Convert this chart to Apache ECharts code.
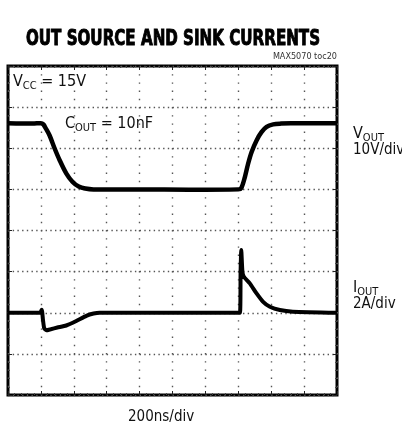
<!DOCTYPE html>
<html>
<head>
<meta charset="utf-8">
<script src="https://cdn.jsdelivr.net/npm/echarts@6/dist/echarts.min.js"></script>
<style>html,body{margin:0;padding:0;background:#fff;}#c{width:402px;height:430px;}</style>
</head>
<body>
<div id="c"></div>
<script>
// time axis (ns), 200 ns/div, 10 divisions
const timeTicks = [0, 200, 400, 600, 800, 1000, 1200, 1400, 1600, 1800, 2000];
// VOUT trace (ns, V) — 10 V/div
const voutTime = [0, 150, 200, 215, 230, 253, 283, 314, 354, 393, 430, 470, 520, 800, 1100, 1400, 1418, 1440, 1460, 1481, 1511, 1541, 1572, 1612, 1660, 1720, 2000];
const voutVolts = [16.1, 16.0, 16.1, 15.8, 14.8, 13.1, 10.0, 7.1, 3.9, 1.8, 0.7, 0.2, 0, 0, -0.1, 0, 0.3, 3.0, 6.3, 9.1, 11.9, 13.9, 15.2, 15.8, 16.0, 16.1, 16.1];
// IOUT trace (ns, A) — 2 A/div
const ioutTime = [0, 195, 205, 212, 220, 233, 260, 300, 354, 415, 476, 520, 557, 800, 1100, 1410, 1414, 1418, 1425, 1434, 1470, 1511, 1551, 1592, 1653, 1732, 2000];
const ioutAmps = [0, 0, 0.15, -0.3, -0.75, -0.85, -0.8, -0.72, -0.62, -0.4, -0.15, -0.04, 0, 0, 0, 0, 2.0, 3.05, 2.0, 1.75, 1.43, 0.94, 0.53, 0.29, 0.13, 0.05, 0];
// vertical scales: 8 divisions each
const voutRange = [-50, 30, 10];
const ioutRange = [-4, 12, 2];

const chart = echarts.init(document.getElementById('c'), null, {renderer: 'canvas'});
const FONT = '"Liberation Sans Narrow", "DejaVu Sans Condensed", sans-serif';
const dotV = {color: '#555', width: 1.4, type: [1.4, 6.8]};
const dotH = {color: '#555', width: 1.4, type: [1.4, 3.3]};

function xAx(pos, split) {
  return {
    type: 'value', min: timeTicks[0], max: timeTicks[timeTicks.length - 1],
    interval: timeTicks[1] - timeTicks[0], position: pos,
    axisLine: {show: false, onZero: false}, axisLabel: {show: false},
    axisTick: {show: true, inside: true, length: 4, lineStyle: {color: '#222', width: 1}},
    minorTick: {show: true, splitNumber: 5, length: 2, lineStyle: {color: '#444', width: 1}},
    splitLine: {show: split, lineStyle: dotV}
  };
}
function yAx(r, pos, split) {
  return {
    type: 'value', min: r[0], max: r[1], interval: r[2], position: pos,
    axisLine: {show: false, onZero: false}, axisLabel: {show: false},
    axisTick: {show: true, inside: true, length: 4, lineStyle: {color: '#222', width: 1}},
    minorTick: {show: true, splitNumber: 5, length: 2, lineStyle: {color: '#444', width: 1}},
    splitLine: {show: split, lineStyle: dotH}
  };
}

const rich = {
  a: {fontFamily: FONT, fontSize: 16, color: '#111', lineHeight: 20, verticalAlign: 'middle'},
  b: {fontFamily: FONT, fontSize: 11, color: '#111', lineHeight: 14, verticalAlign: 'bottom'}
};
function label(x, y, str) {
  return {type: 'text', left: x, top: y, z: 100, style: {text: str, rich: rich, fill: '#111'}};
}
function plain(x, y, str) {
  return {type: 'text', left: x, top: y, z: 100, style: {text: str, fontFamily: FONT, fontSize: 15, fill: '#111'}};
}

chart.setOption({
  animation: false,
  backgroundColor: '#fff',
  grid: {left: 8, top: 66, width: 329, height: 329, show: true, borderColor: '#000', borderWidth: 3, backgroundColor: 'transparent'},
  xAxis: [xAx('bottom', true), xAx('top', false)],
  yAxis: [yAx(voutRange, 'left', true), yAx(ioutRange, 'right', false)],
  series: [
    {type: 'line', name: 'VOUT', xAxisIndex: 0, yAxisIndex: 0, showSymbol: false, smooth: 0.3,
      lineStyle: {color: '#000', width: 4.5}, data: voutTime.map((t, i) => [t, voutVolts[i]])},
    {type: 'line', name: 'IOUT', xAxisIndex: 0, yAxisIndex: 1, showSymbol: false, smooth: 0.2,
      lineStyle: {color: '#000', width: 4}, data: ioutTime.map((t, i) => [t, ioutAmps[i]])}
  ],
  graphic: [
    {type: 'text', x: 173, y: 40, scaleX: 0.8, z: 100,
      style: {text: 'OUT SOURCE AND SINK CURRENTS', fontFamily: FONT, fontWeight: 'bold', fontSize: 21,
        fill: '#000', stroke: '#000', lineWidth: 0.9, textAlign: 'center', textVerticalAlign: 'middle'}},
    {type: 'text', right: 65, top: 52, style: {text: 'MAX5070 toc20', fontFamily: FONT, fontSize: 9, fill: '#333'}},
    label(13, 74, '{a|V}{b|CC}{a| = 15V}'),
    label(65, 116, '{a|C}{b|OUT}{a| = 10nF}'),
    label(353, 126, '{a|V}{b|OUT}'),
    plain(353, 143, '10V/div'),
    label(353, 280, '{a|I}{b|OUT}'),
    plain(353, 297, '2A/div'),
    plain(128, 410, '200ns/div')
  ]
});
</script>
</body>
</html>
